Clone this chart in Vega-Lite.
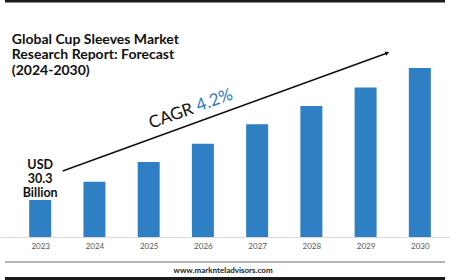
{
  "$schema": "https://vega.github.io/schema/vega-lite/v6.json",
  "autosize": "none",
  "padding": {"left": 0, "top": 0, "right": 0, "bottom": 43},
  "width": 450,
  "height": 237,
  "background": "white",
  "config": {"view": {"stroke": null}, "font": "Lato"},
  "datasets": {
    "bars": [
      {"year": 2023, "value": 30.3},
      {"year": 2024, "value": 31.7},
      {"year": 2025, "value": 33.2},
      {"year": 2026, "value": 34.6},
      {"year": 2027, "value": 36.1},
      {"year": 2028, "value": 37.5},
      {"year": 2029, "value": 38.9},
      {"year": 2030, "value": 40.4}
    ],
    "title": [
      {"label": "Global Cup Sleeves Market", "x": 2022.477, "y": 42.24},
      {"label": "Research Report: Forecast", "x": 2022.477, "y": 41.05},
      {"label": "(2024-2030)", "x": 2022.477, "y": 39.86}
    ],
    "usd": [
      {"label": "USD", "x": 2023.0, "y": 32.67},
      {"label": "30.3", "x": 2023.0, "y": 31.6},
      {"label": "Billion", "x": 2023.0, "y": 30.53}
    ],
    "arrow": [
      {"x1": 2023.415, "y1": 32.52, "x2": 2029.4, "y2": 41.55}
    ],
    "cagr": [{"label": "CAGR", "x": 2025.443, "y": 36.345}],
    "pct": [{"label": "4.2%", "x": 2026.245, "y": 37.55}],
    "sep": [{"x1": 2022.351, "x2": 2030.464, "y": 25.557}],
    "borders": [
      {"x1": 2022.351, "x2": 2030.464, "y": 45.52},
      {"x1": 2022.351, "x2": 2030.464, "y": 24.295}
    ],
    "footer": [{"label": "www.marknteladvisors.com", "x": 2026.371, "y": 24.716}]
  },
  "layer": [
    {
      "data": {"name": "bars"},
      "mark": {"type": "bar", "width": 22, "color": "#2f7fc4"},
      "encoding": {
        "x": {
          "field": "year", "type": "quantitative",
          "scale": {"domain": [2022.351, 2030.464], "nice": false, "zero": false},
          "axis": {
            "values": [2023, 2024, 2025, 2026, 2027, 2028, 2029, 2030],
            "format": "d", "title": null, "ticks": false, "grid": false,
            "domainColor": "#d9d9d9", "domainWidth": 1,
            "labelColor": "#555555", "labelFontSize": 8, "labelPadding": 5,
            "labelFont": "Lato"
          }
        },
        "y": {
          "field": "value", "type": "quantitative",
          "scale": {"domain": [27.47, 45.6], "nice": false, "zero": false},
          "axis": null
        },
        "y2": {"datum": 27.47}
      }
    },
    {
      "data": {"name": "arrow"},
      "mark": {"type": "rule", "color": "#111111", "strokeWidth": 1.5},
      "encoding": {
        "x": {"field": "x1", "type": "quantitative"},
        "x2": {"field": "x2"},
        "y": {"field": "y1", "type": "quantitative"},
        "y2": {"field": "y2"}
      }
    },
    {
      "data": {"name": "arrow"},
      "mark": {"type": "point", "shape": "triangle-right", "filled": true, "color": "#111111", "size": 22, "angle": -19.6, "opacity": 1},
      "encoding": {
        "x": {"field": "x2", "type": "quantitative"},
        "y": {"field": "y2", "type": "quantitative"}
      }
    },
    {
      "data": {"name": "title"},
      "mark": {"type": "text", "align": "left", "baseline": "alphabetic", "fontWeight": "bold", "fontSize": 14, "color": "#111111"},
      "encoding": {
        "x": {"field": "x", "type": "quantitative"},
        "y": {"field": "y", "type": "quantitative"},
        "text": {"field": "label"}
      }
    },
    {
      "data": {"name": "usd"},
      "mark": {"type": "text", "align": "center", "baseline": "alphabetic", "fontWeight": "bold", "fontSize": 12.5, "color": "#111111"},
      "encoding": {
        "x": {"field": "x", "type": "quantitative"},
        "y": {"field": "y", "type": "quantitative"},
        "text": {"field": "label"}
      }
    },
    {
      "data": {"name": "cagr"},
      "mark": {"type": "text", "align": "center", "baseline": "alphabetic", "fontSize": 17, "angle": -19.6, "color": "#111111"},
      "encoding": {
        "x": {"field": "x", "type": "quantitative"},
        "y": {"field": "y", "type": "quantitative"},
        "text": {"field": "label"}
      }
    },
    {
      "data": {"name": "pct"},
      "mark": {"type": "text", "align": "center", "baseline": "alphabetic", "fontSize": 17, "angle": -19.6, "color": "#2e7cc4"},
      "encoding": {
        "x": {"field": "x", "type": "quantitative"},
        "y": {"field": "y", "type": "quantitative"},
        "text": {"field": "label"}
      }
    },
    {
      "data": {"name": "sep"},
      "mark": {"type": "rule", "color": "#b5b5b5", "strokeWidth": 2},
      "encoding": {
        "x": {"field": "x1", "type": "quantitative"},
        "x2": {"field": "x2"},
        "y": {"field": "y", "type": "quantitative"}
      }
    },
    {
      "data": {"name": "borders"},
      "mark": {"type": "rule", "color": "#1a1a1a", "strokeWidth": 3},
      "encoding": {
        "x": {"field": "x1", "type": "quantitative"},
        "x2": {"field": "x2"},
        "y": {"field": "y", "type": "quantitative"}
      }
    },
    {
      "data": {"name": "footer"},
      "mark": {"type": "text", "align": "center", "baseline": "alphabetic", "fontWeight": "bold", "fontSize": 8, "color": "#222222"},
      "encoding": {
        "x": {"field": "x", "type": "quantitative"},
        "y": {"field": "y", "type": "quantitative"},
        "text": {"field": "label"}
      }
    }
  ]
}
